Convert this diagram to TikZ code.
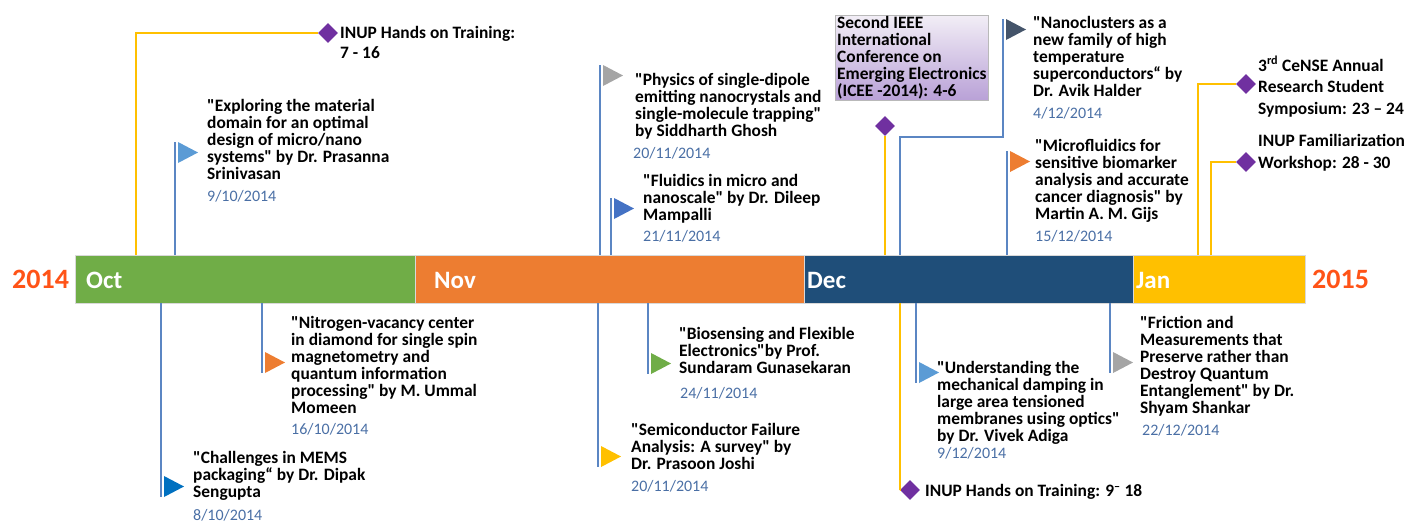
\documentclass[tikz,border=0pt]{standalone}
\usepackage{fontspec}
\setmainfont{Carlito}[Ligatures=TeXOff]
\usetikzlibrary{shapes.geometric}
\definecolor{cgreen}{HTML}{70AD47}
\definecolor{corange}{HTML}{ED7D31}
\definecolor{cnavy}{HTML}{1F4E79}
\definecolor{cyellow}{HTML}{FFC000}
\definecolor{cyear}{HTML}{FF5317}
\definecolor{cline}{HTML}{5B86C3}
\definecolor{cdate}{HTML}{4A6FA5}
\definecolor{cpurple}{HTML}{7030A0}
\definecolor{flb}{HTML}{5B9BD5}
\definecolor{fgray}{HTML}{A5A5A5}
\definecolor{fblue}{HTML}{4472C4}
\definecolor{fslate}{HTML}{44546A}
\definecolor{fdblue}{HTML}{0070C0}
\definecolor{pl1}{HTML}{F2EEF6}
\definecolor{pl2}{HTML}{B9A1D7}
\newcommand\fr{\rule{0pt}{11pt}}
\newcommand\tls{\setlength{\lineskiplimit}{-8pt}\setlength{\lineskip}{0pt}}
\newcommand\flagtop[2]{\fill[#2,shift={(#1)}] (3,0) -- (23,10.5) -- (3,21) -- cycle;}
\newcommand\flagbot[2]{\fill[#2,shift={(#1)}] (3,-21) -- (23,-10.5) -- (3,0) -- cycle;}
\tikzset{
  band/.style={rectangle, draw=gray!30, line width=0.6pt, minimum height=48pt, inner sep=0pt, outer sep=0pt},
  mlab/.style={anchor=west, inner sep=0pt, text=white, font=\fontsize{25}{28}\selectfont\bfseries},
  ylab/.style={anchor=west, inner sep=0pt, text=cyear, font=\fontsize{28}{30}\selectfont\bfseries},
  txt/.style={anchor=north west, inner sep=0pt, align=left, font=\fontsize{17.4}{17}\selectfont\bfseries\tls},
  dte/.style={anchor=west, inner sep=0pt, text=cdate, font=\fontsize{16}{18}\selectfont},
  pole/.style={draw=cline, line width=2.2pt},
  ypole/.style={draw=cyellow, line width=2.2pt},
  dia/.style={diamond, fill=cpurple, minimum width=20pt, minimum height=20pt, inner sep=0pt, aspect=1},
  icebox/.style={rectangle, draw=gray!55, line width=0.6pt, top color=pl1, bottom color=pl2, minimum width=153pt, minimum height=85pt, inner sep=0pt}
}
\begin{document}
\begin{tikzpicture}[x=1pt,y=-1pt]
\useasboundingbox (0,0) rectangle (1410,523);
% band
\node[band, fill=cgreen, minimum width=340pt] (oct) at (245,279) {};
\node[band, fill=corange, minimum width=389pt] (nov) at (609.5,279) {};
\node[band, fill=cnavy, minimum width=329pt] (dec) at (968.5,279) {};
\node[band, fill=cyellow, minimum width=172pt] (jan) at (1219,279) {};
\node[mlab] (octl) at (86,280) {Oct};
\node[mlab] (novl) at (434,280) {Nov};
\node[mlab] (decl) at (807,280) {Dec};
\node[mlab] (janl) at (1136,280) {Jan};
\node[ylab] (y14) at (12,279) {2014};
\node[ylab] (y15) at (1312,279) {2015};

% ---------- top: yellow events ----------
\node[dia] (d1) at (328,33) {};
\coordinate (y1) at (136,255);
\draw[ypole] (y1) |- (d1.west);
\node[txt, font=\fontsize{17.4}{20}\selectfont\bfseries] (t1) at (340,26) {\fr INUP Hands on Training:\\7 - 16};

\node[icebox] (icee) at (911.5,57.5) {};
\node[txt] (ticee) at (837,16) {\fr Second IEEE\\International\\Conference on\\Emerging Electronics\\(ICEE -2014): 4-6};
\node[dia] (d2) at (885,126) {};
\coordinate (y2) at (885,255);
\draw[ypole] (d2.south) -- (y2);

\node[dia] (d3) at (1246,84) {};
\coordinate (y3) at (1198,255);
\draw[ypole] (y3) |- (d3.west);
\node[txt, font=\fontsize{17.4}{21.5}\selectfont\bfseries] (t3) at (1258,56) {\fr 3\textsuperscript{rd} CeNSE Annual\\Research Student\\Symposium: 23 – 24};

\node[dia] (d4) at (1246,162) {};
\coordinate (y4) at (1211,255);
\draw[ypole] (y4) |- (d4.west);
\node[txt, font=\fontsize{17.4}{22}\selectfont\bfseries] (t4) at (1258,134) {\fr INUP Familiarization\\Workshop: 28 - 30};

% ---------- top: flags ----------
\coordinate (f1) at (175,142);
\draw[pole] (f1) -- (f1 |- oct.north);
\flagtop{f1}{flb}
\node[txt] (e1) at (207,99) {\fr "Exploring the material\\domain for an optimal\\design of micro/nano\\systems" by Dr. Prasanna\\Srinivasan};
\node[dte] (e1d) at (207,196) {9/10/2014};

\coordinate (f2) at (600,65);
\draw[pole] (f2) -- (f2 |- nov.north);
\flagtop{f2}{fgray}
\node[txt] (e2) at (635,73) {\fr "Physics of single-dipole\\emitting nanocrystals and\\single-molecule trapping"\\by Siddharth Ghosh};
\node[dte] (e2d) at (633,153) {20/11/2014};

\coordinate (f3) at (611,198);
\draw[pole] (f3) -- (f3 |- nov.north);
\flagtop{f3}{fblue}
\node[txt] (e3) at (643,174) {\fr "Fluidics in micro and\\nanoscale" by Dr. Dileep\\Mampalli};
\node[dte] (e3d) at (643,236) {21/11/2014};

\coordinate (f4) at (1003,19);
\coordinate (f4b) at (900,255);
\draw[pole] (f4b) |- (1003,137) -- (f4);
\flagtop{f4}{fslate}
\node[txt] (e4) at (1033,16) {\fr "Nanoclusters as a\\new family of high\\temperature\\superconductors“ by\\Dr. Avik Halder};
\node[dte] (e4d) at (1033,113) {4/12/2014};

\coordinate (f5) at (1007,151);
\draw[pole] (f5) -- (f5 |- dec.north);
\flagtop{f5}{corange}
\node[txt] (e5) at (1035,139) {\fr "Microfluidics for\\sensitive biomarker\\analysis and accurate\\cancer diagnosis" by\\Martin A. M. Gijs};
\node[dte] (e5d) at (1035,236) {15/12/2014};

% ---------- bottom: flags ----------
\coordinate (g1) at (161,497);
\draw[pole] (oct.south -| g1) -- (g1);
\flagbot{g1}{fdblue}
\node[txt] (b1) at (193,451) {\fr "Challenges in MEMS\\packaging“ by Dr. Dipak\\Sengupta};
\node[dte] (b1d) at (193,515) {8/10/2014};

\coordinate (g2) at (262,373);
\draw[pole] (oct.south -| g2) -- (g2);
\flagbot{g2}{corange}
\node[txt] (b2) at (291,316) {\fr "Nitrogen-vacancy center\\in diamond for single spin\\magnetometry and\\quantum information\\processing" by M. Ummal\\Momeen};
\node[dte] (b2d) at (291,429) {16/10/2014};

\coordinate (g3) at (598,467);
\draw[pole] (nov.south -| g3) -- (g3);
\flagbot{g3}{cyellow}
\node[txt] (b3) at (631,423) {\fr "Semiconductor Failure\\Analysis: A survey" by\\Dr. Prasoon Joshi};
\node[dte] (b3d) at (631,486) {20/11/2014};

\coordinate (g4) at (648,374);
\draw[pole] (nov.south -| g4) -- (g4);
\flagbot{g4}{cgreen}
\node[txt] (b4) at (679,327) {\fr "Biosensing and Flexible\\Electronics"by Prof.\\Sundaram Gunasekaran};
\node[dte] (b4d) at (680,393) {24/11/2014};

\coordinate (g5) at (916,383);
\draw[pole] (dec.south -| g5) -- (g5);
\flagbot{g5}{flb}
\node[txt] (b5) at (937,361) {\fr "Understanding the\\mechanical damping in\\large area tensioned\\membranes using optics"\\by Dr. Vivek Adiga};
\node[dte] (b5d) at (937,453) {9/12/2014};

\coordinate (g6) at (1110,373);
\draw[pole] (dec.south -| g6) -- (g6);
\flagbot{g6}{fgray}
\node[txt] (b6) at (1140,316) {\fr "Friction and\\Measurements that\\Preserve rather than\\Destroy Quantum\\Entanglement" by Dr.\\Shyam Shankar};
\node[dte] (b6d) at (1142,430) {22/12/2014};

% bottom yellow event
\node[dia] (d5) at (910,490) {};
\coordinate (y5) at (900,303);
\draw[ypole] (y5) |- (d5.west);
\node[txt] (t5) at (925,484) {\fr INUP Hands on Training: 9\textsuperscript{–} 18};
\end{tikzpicture}
\end{document}
